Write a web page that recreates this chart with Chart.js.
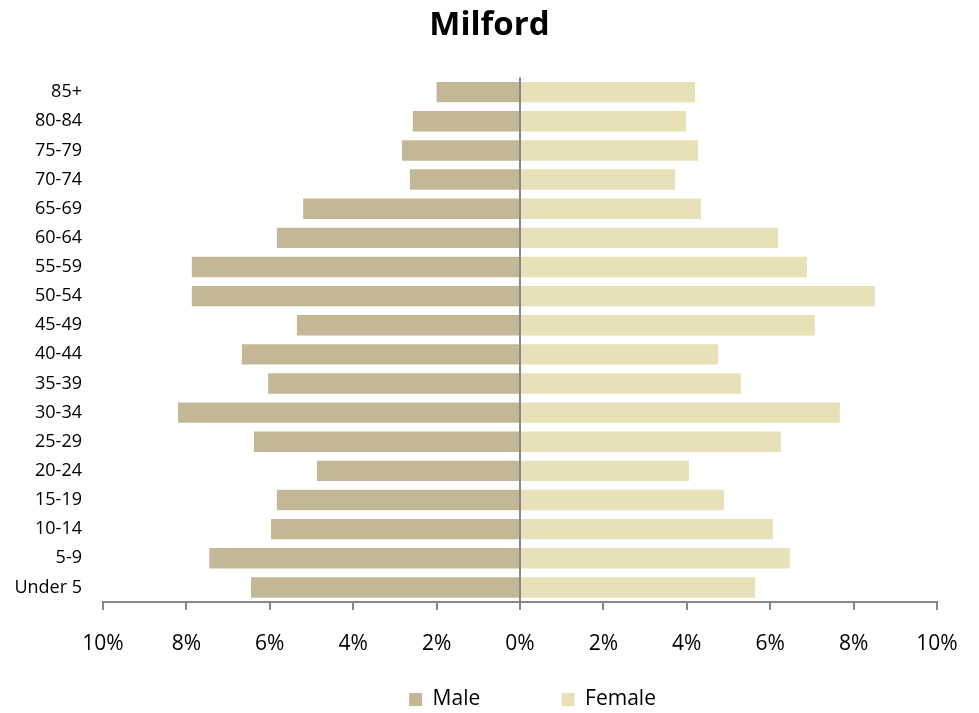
<!DOCTYPE html>
<html>
<head>
<meta charset="utf-8">
<script src="https://cdn.jsdelivr.net/npm/chart.js@4"></script>
<style>
    html, body { margin: 0; padding: 0; background: #fff; }
    #wrap { width: 979px; height: 713px; }
</style>
</head>
<body>
<div id="wrap"><canvas id="pyramid"></canvas></div>
<script>
// ---------------- DATA ----------------
const ageGroups = ["Under 5", "5-9", "10-14", "15-19", "20-24", "25-29", "30-34", "35-39", "40-44",
    "45-49", "50-54", "55-59", "60-64", "65-69", "70-74", "75-79", "80-84", "85+"];
const male = [6.45, 7.45, 5.97, 5.83, 4.87, 6.38, 8.2, 6.04, 6.67,
    5.35, 7.87, 7.87, 5.83, 5.2, 2.64, 2.83, 2.57, 2.0];
const female = [5.64, 6.47, 6.07, 4.89, 4.05, 6.26, 7.67, 5.3, 4.75,
    7.07, 8.51, 6.88, 6.19, 4.34, 3.72, 4.27, 3.98, 4.2];
const xTicks = [-10, -8, -6, -4, -2, 0, 2, 4, 6, 8, 10];

const FONT = "'Open Sans', 'Liberation Sans', sans-serif";

// centre the title on the page, nudge the legend right and down like the original
const boxShift = {
    id: "boxShift",
    afterLayout(chart) {
        chart.titleBlock.left += 21;
        chart.titleBlock.right += 21;
        chart.legend.left += 64;
        chart.legend.right += 64;
        chart.legend.top += 7;
        chart.legend.bottom += 7;
    }
};

// ---------------- CHART ----------------
new Chart(document.getElementById("pyramid"), {
    type: "bar",
    data: {
        labels: ageGroups,
        datasets: [
            { label: "Male", data: male.map(v => -v), backgroundColor: "#c4b796" },
            { label: "Female", data: female, backgroundColor: "#e8e0b7" }
        ]
    },
    plugins: [boxShift],
    options: {
        indexAxis: "y",
        responsive: true,
        maintainAspectRatio: false,
        animation: false,
        barPercentage: 0.7,
        categoryPercentage: 1.0,
        layout: { padding: { left: 0, right: 42, top: 6, bottom: 0 } },
        plugins: {
            title: {
                display: true,
                text: "Milford",
                color: "#000",
                font: { family: FONT, size: 33, weight: "bold" },
                padding: { top: 0, bottom: 32 }
            },
            legend: {
                position: "bottom",
                labels: {
                    color: "#000",
                    font: { family: FONT, size: 21 },
                    boxWidth: 13,
                    boxHeight: 13,
                    padding: 5,
                    generateLabels: chart => chart.data.datasets.map((ds, i) => ({
                        text: i === 0 ? ds.label + "              " : ds.label,
                        fillStyle: ds.backgroundColor,
                        strokeStyle: ds.backgroundColor,
                        lineWidth: 0,
                        fontColor: "#000",
                        datasetIndex: i
                    }))
                }
            },
            tooltip: { enabled: false }
        },
        scales: {
            x: {
                stacked: true,
                min: -10,
                max: 10,
                afterBuildTicks: s => { s.ticks = xTicks.map(v => ({ value: v })); },
                afterFit: s => { s.height = 75; },
                border: { display: true, color: "#888", width: 2 },
                grid: {
                    drawOnChartArea: true,
                    color: c => c.tick && c.tick.value === 0 ? "#888" : "rgba(0,0,0,0)",
                    lineWidth: 2,
                    tickColor: "#888",
                    tickLength: 8
                },
                ticks: {
                    color: "#000",
                    padding: 21,
                    font: { family: FONT, size: 21 },
                    callback: v => Math.abs(v) + "%"
                }
            },
            y: {
                stacked: true,
                reverse: true,
                afterFit: s => { s.width = 103; },
                border: { display: false },
                grid: { display: false },
                ticks: {
                    color: "#000",
                    padding: 13,
                    font: { family: FONT, size: 18 }
                }
            }
        }
    }
});
</script>
</body>
</html>
